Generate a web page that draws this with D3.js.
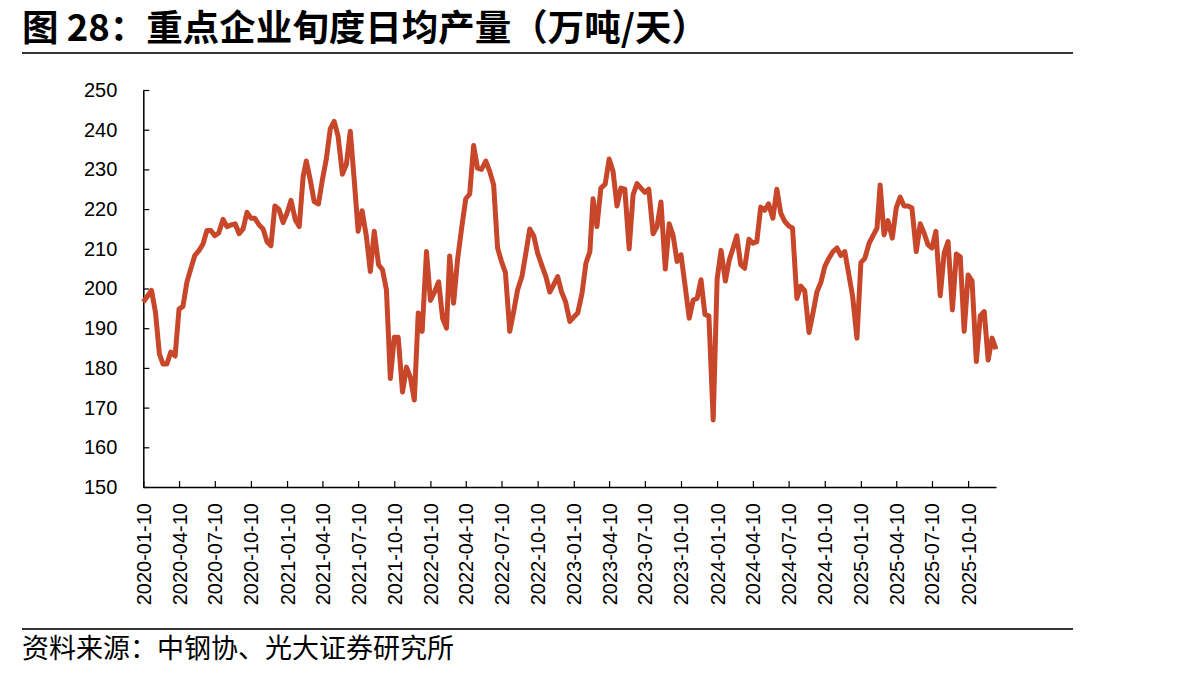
<!DOCTYPE html>
<html>
<head>
<meta charset="utf-8">
<script src="https://cdn.jsdelivr.net/npm/d3@7/dist/d3.min.js"></script>
<style>
  html, body { margin: 0; padding: 0; background: #fff; }
  svg { display: block; }
</style>
</head>
<body>
<svg id="chart" width="1204" height="677"></svg>
<script>
// Daily average output of key steel enterprises, per ten-day period (万吨/天)
const titleText = "图 28：重点企业旬度日均产量（万吨/天）";
const sourceText = "资料来源：中钢协、光大证券研究所";
const startYear = 2020;
const yTicks = [150, 160, 170, 180, 190, 200, 210, 220, 230, 240, 250];
const xTickLabels = [
  "2020-01-10", "2020-04-10", "2020-07-10", "2020-10-10",
  "2021-01-10", "2021-04-10", "2021-07-10", "2021-10-10",
  "2022-01-10", "2022-04-10", "2022-07-10", "2022-10-10",
  "2023-01-10", "2023-04-10", "2023-07-10", "2023-10-10",
  "2024-01-10", "2024-04-10", "2024-07-10", "2024-10-10",
  "2025-01-10", "2025-04-10", "2025-07-10", "2025-10-10"
];
// One value per dekad (上旬 / 中旬 / 下旬), grouped by year
const output2020 = [196.6, 198, 199.5, 194, 183.5, 181, 181, 184, 183, 194.8, 195.5, 201.6,
  205, 208.3, 209.6, 211.2, 214.6, 214.6, 213.3, 214, 217.4, 215.6, 216, 216.3,
  213.8, 215, 219.2, 217.7, 217.7, 216, 215, 211.8, 210.8, 220.8, 220, 216.6];
const output2021 = [219, 222.2, 217.3, 215.6, 228.2, 232.1, 227.4, 221.9, 221.3, 227.4, 232.6, 240.2,
  242.1, 238.3, 228.8, 231.2, 239.6, 227.4, 214.4, 219.6, 213.1, 204.3, 214.4, 206,
  204.7, 199.7, 177.3, 187.7, 187.7, 173.9, 180.2, 177.6, 171.9, 193.8, 189.2, 209.3];
const output2022 = [197, 199, 201.7, 192.5, 190, 208.2, 196.3, 207.2, 215.6, 222.6, 223.8, 236,
  230.3, 230, 232.1, 229.5, 226.1, 210.2, 206.8, 204, 189.2, 194.2, 199.7, 203,
  208.9, 215, 213.3, 208.9, 206, 203, 199.1, 201, 203, 199.1, 196.7, 191.7];
const output2023 = [192.8, 193.8, 198.8, 206.4, 209.3, 222.6, 215.6, 225.3, 226.3, 232.6, 229.5, 220.8,
  225.3, 225, 210, 223.6, 226.4, 225.3, 224.2, 225, 213.8, 215.6, 221.8, 204.9,
  216.3, 213.3, 206.8, 208.5, 201, 192.5, 197.1, 197.5, 202.2, 193.4, 193.1, 166.9];
const output2024 = [202.4, 209.6, 201.9, 207.2, 210.3, 213.3, 206, 205.1, 212.4, 211.4, 211.8, 220.5,
  219.7, 221.3, 217.7, 225, 219, 216.9, 215.8, 215.2, 197.5, 200.6, 199.4, 188.9,
  193.8, 199.1, 201.5, 205.5, 207.5, 209.3, 210.2, 208.3, 209.3, 203.7, 198, 187.5];
const output2025 = [206.5, 207.6, 211.4, 213.3, 215.2, 226.1, 213.5, 217.1, 212.7, 220.3, 223, 220.8,
  220.8, 220.3, 209.3, 216.3, 213.9, 211, 210.2, 214.4, 198.2, 208.9, 211.8, 194.6,
  208.7, 208, 189.2, 203.4, 201.9, 181.6, 193.1, 194.2, 182, 187.5, 184.7];

// Dekad end dates: 10th, 20th and last day of each month
function DekadDate(Index) {
  var Month = Math.floor(Index / 3), Part = Index % 3;
  var Year = startYear + Math.floor(Month / 12), M = Month % 12;
  var Day = Part == 0 ? 10 : Part == 1 ? 20 : new Date(Year, M + 1, 0).getDate();
  return new Date(Year, M, Day);
}
var Values = [].concat(output2020, output2021, output2022, output2023, output2024, output2025);
var Series = Values.map((Value, Index) => ({ Date: DekadDate(Index), Value: Value }));

var Svg = d3.select("#chart");
var Left = 143.3, Right = 996, Top = 90, Bottom = 487;
var Parse = d3.timeParse("%Y-%m-%d");

var X = d3.scaleTime()
  .domain([Series[0].Date, Series[Series.length - 1].Date])
  .range([Left, Right]);
var Y = d3.scaleLinear().domain([150, 250]).range([Bottom, Top]);

// Title and rules
Svg.append("text")
  .attr("x", 22).attr("y", 41)
  .attr("font-family", "'Noto Sans CJK SC', sans-serif")
  .attr("font-weight", "bold")
  .attr("font-size", 36.5)
  .attr("fill", "#000")
  .text(titleText);
Svg.append("line").attr("x1", 22).attr("x2", 1073).attr("y1", 53).attr("y2", 53)
  .attr("stroke", "#333").attr("stroke-width", 2);
Svg.append("line").attr("x1", 22).attr("x2", 1073).attr("y1", 629).attr("y2", 629)
  .attr("stroke", "#333").attr("stroke-width", 2);
Svg.append("text")
  .attr("x", 22).attr("y", 658)
  .attr("font-family", "'Noto Sans CJK SC', sans-serif")
  .attr("font-size", 27)
  .attr("fill", "#000")
  .text(sourceText);

// Y axis
var YAxis = Svg.append("g")
  .attr("transform", `translate(${Left},0)`)
  .call(d3.axisLeft(Y).tickValues(yTicks).tickSizeInner(-6).tickSizeOuter(0).tickPadding(26));
YAxis.select(".domain").attr("stroke", "#000").attr("stroke-width", 1.5);
YAxis.selectAll(".tick line").attr("stroke", "#000").attr("stroke-width", 1.2);
YAxis.selectAll(".tick text")
  .attr("font-family", "'Liberation Sans', Arial, sans-serif")
  .attr("font-size", 20).attr("fill", "#000");

// X axis
var XAxis = Svg.append("g")
  .attr("transform", `translate(0,${Bottom})`)
  .call(d3.axisBottom(X).tickValues(xTickLabels.map(Parse))
    .tickFormat(d3.timeFormat("%Y-%m-%d")).tickSizeInner(-6).tickSizeOuter(0));
XAxis.select(".domain").attr("stroke", "#000").attr("stroke-width", 1.5);
XAxis.selectAll(".tick line").attr("stroke", "#000").attr("stroke-width", 1.2);
XAxis.selectAll(".tick text")
  .attr("font-family", "'Liberation Sans', Arial, sans-serif")
  .attr("font-size", 20).attr("fill", "#000")
  .attr("transform", "rotate(-90)")
  .attr("text-anchor", "end")
  .attr("x", -16).attr("y", 0).attr("dy", "0.35em");

// The line
var Line = d3.line().x((D) => X(D.Date)).y((D) => Y(D.Value));
Svg.append("path")
  .datum(Series)
  .attr("d", Line)
  .attr("fill", "none")
  .attr("stroke", "#C8462A")
  .attr("stroke-width", 5)
  .attr("stroke-linejoin", "round");
</script>
</body>
</html>
